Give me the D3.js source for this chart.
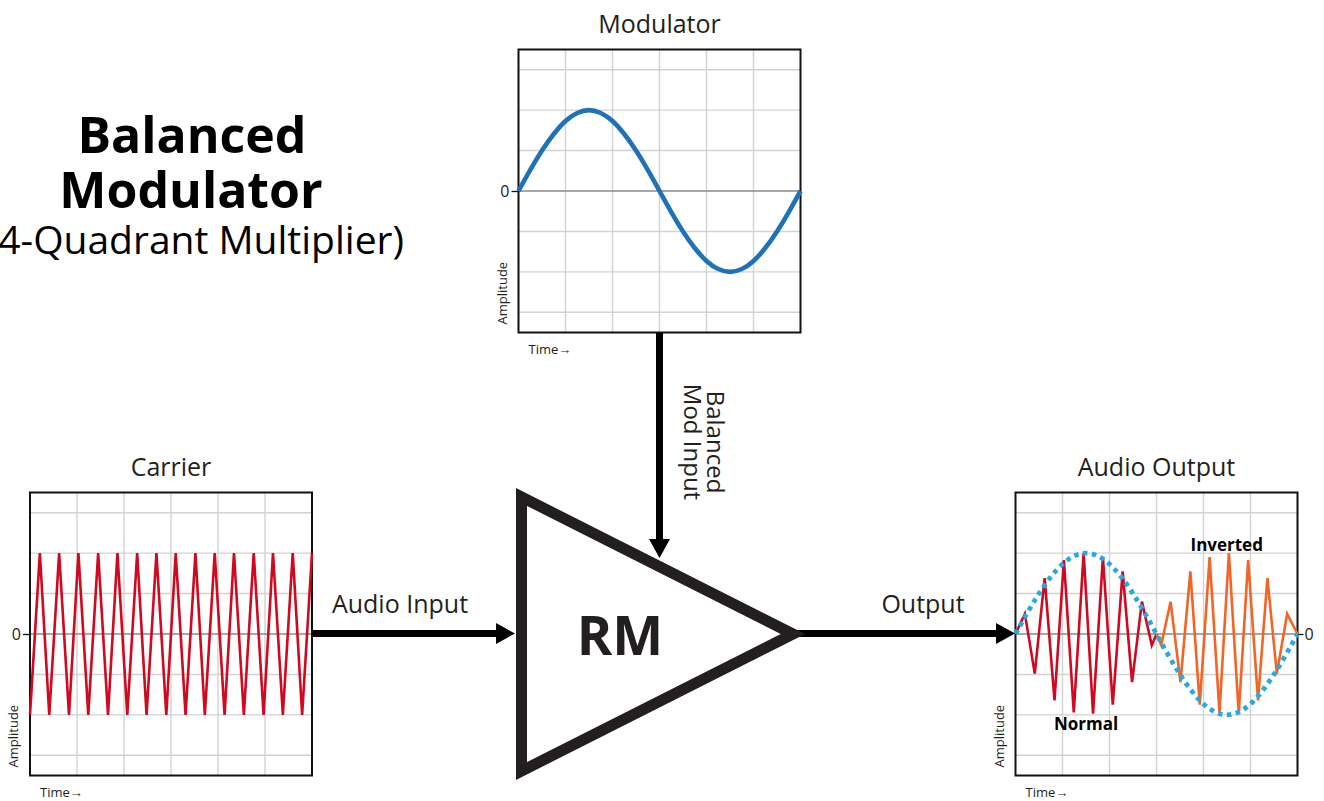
<!DOCTYPE html>
<html>
<head>
<meta charset="utf-8">
<script src="https://cdn.jsdelivr.net/npm/d3@7"></script>
<style>
  html, body { margin: 0; padding: 0; background: #fff; }
  svg { display: block; font-family: "Open Sans", "Noto Sans", sans-serif; }
</style>
</head>
<body>
<div id="chart"></div>
<script>
// modulator: one slow sine cycle (also the envelope in the output panel)
var modTime = [0, 0.25, 0.5, 0.75, 1, 1.25, 1.5, 1.75, 2, 2.25, 2.5, 2.75, 3,
               3.25, 3.5, 3.75, 4, 4.25, 4.5, 4.75, 5, 5.25, 5.5, 5.75, 6];
var modAmp = [0, 0.52, 1.0, 1.41, 1.73, 1.93, 2.0, 1.93, 1.73, 1.41, 1.0, 0.52, 0,
              -0.52, -1.0, -1.41, -1.73, -1.93, -2.0, -1.93, -1.73, -1.41, -1.0, -0.52, 0];

// carrier: triangle wave corners
var carrierTime = [0, 0.21, 0.41, 0.62, 0.83, 1.03, 1.24, 1.45, 1.66, 1.86,
                   2.07, 2.28, 2.48, 2.69, 2.90, 3.10, 3.31, 3.52, 3.72, 3.93,
                   4.14, 4.34, 4.55, 4.76, 4.97, 5.17, 5.38, 5.59, 5.79, 6.0];
var carrierAmp = [-2, 2, -2, 2, -2, 2, -2, 2, -2, 2,
                  -2, 2, -2, 2, -2, 2, -2, 2, -2, 2,
                  -2, 2, -2, 2, -2, 2, -2, 2, -2, 2];

// output, first half ("Normal") and second half ("Inverted")
var normalTime = [0, 0.2, 0.41, 0.62, 0.83, 1.03, 1.24, 1.45, 1.65, 1.86, 2.07, 2.28, 2.48, 2.69, 2.9, 3.0];
var normalAmp  = [0, 0.5, -0.98, 1.38, -1.64, 1.83, -1.94, 2.0, -1.97, 1.9, -1.75, 1.55, -1.19, 0.8, -0.28, 0];
var invertedTime = [3.0, 3.1, 3.3, 3.51, 3.72, 3.92, 4.13, 4.34, 4.54, 4.75, 4.95, 5.16, 5.36, 5.56, 5.78, 6.0];
var invertedAmp  = [0, -0.27, 0.8, -1.19, 1.55, -1.75, 1.9, -1.94, 2.0, -1.97, 1.83, -1.64, 1.38, -0.98, 0.5, 0];

// axes / grid
var timeDomain = [0, 6];
var ampDomain = [-3.5, 3.5];
var gridX = [1, 2, 3, 4, 5];
var gridY = [-3, -2, -1, 1, 2, 3];
var zeroTick = [0];

var titleLines = ["Balanced", "Modulator", "(4-Quadrant Multiplier)"];
var panelTitles = ["Modulator", "Carrier", "Audio Output"];

var W = 1324, H = 801;
var bw = 282, bh = 283;   // panel box size

var svg = d3.select("#chart").append("svg")
    .attr("width", W)
    .attr("height", H);

function zip(t, a) {
    return t.map(function (d, i) { return { t: d, a: a[i] }; });
}

function panel(left, top, title, zeroSide) {
    var g = svg.append("g").attr("transform", "translate(" + left + "," + top + ")");
    var x = d3.scaleLinear().domain(timeDomain).range([0, bw]);
    var y = d3.scaleLinear().domain(ampDomain).range([bh, 0]);

    g.selectAll(".gx").data(gridX).enter().append("line")
        .attr("x1", x).attr("x2", x).attr("y1", 0).attr("y2", bh)
        .attr("stroke", "#d2d2d2").attr("stroke-width", 1.4);
    g.selectAll(".gy").data(gridY).enter().append("line")
        .attr("y1", y).attr("y2", y).attr("x1", 0).attr("x2", bw)
        .attr("stroke", "#d2d2d2").attr("stroke-width", 1.4);
    g.append("line")
        .attr("x1", 0).attr("x2", bw).attr("y1", y(0)).attr("y2", y(0))
        .attr("stroke", "#8a8a8a").attr("stroke-width", 1.5);

    // zero tick + label
    var ax = zeroSide === "right"
        ? d3.axisRight(y).tickValues(zeroTick).tickSize(6).tickPadding(1)
        : d3.axisLeft(y).tickValues(zeroTick).tickSize(7).tickPadding(2);
    ax.tickFormat(d3.format("d"));
    var axg = g.append("g")
        .attr("transform", zeroSide === "right" ? "translate(" + bw + ",0)" : null)
        .call(ax);
    axg.select(".domain").remove();
    axg.selectAll("line").attr("stroke", "#111").attr("stroke-width", 1.3);
    axg.selectAll("text")
        .style("font-family", "'Open Sans', sans-serif")
        .style("font-size", "16px").attr("fill", "#222");

    g.append("rect")
        .attr("width", bw).attr("height", bh)
        .attr("fill", "none").attr("stroke", "#111").attr("stroke-width", 2);

    g.append("text")
        .attr("x", bw / 2).attr("y", -17)
        .attr("text-anchor", "middle")
        .attr("font-size", 25).attr("fill", "#231f20")
        .text(title);

    g.append("text")
        .attr("transform", "translate(-12," + (bh - 8) + ") rotate(-90)")
        .attr("font-size", 13).attr("fill", "#231f20")
        .text("Amplitude");

    g.append("text")
        .attr("x", 10).attr("y", bh + 21)
        .attr("font-size", 13).attr("fill", "#231f20")
        .text("Time→");

    return { g: g, x: x, y: y };
}

function trace(p, data, color, width, curve, dash) {
    var line = d3.line()
        .x(function (d) { return p.x(d.t); })
        .y(function (d) { return p.y(d.a); })
        .curve(curve || d3.curveLinear);
    var path = p.g.append("path")
        .datum(data)
        .attr("d", line)
        .attr("fill", "none")
        .attr("stroke", color)
        .attr("stroke-width", width)
        .attr("stroke-linejoin", "miter");
    if (dash) path.attr("stroke-dasharray", dash);
    return path;
}

function arrow(x1, y1, x2, y2) {
    var len = Math.sqrt((x2 - x1) * (x2 - x1) + (y2 - y1) * (y2 - y1));
    var ux = (x2 - x1) / len, uy = (y2 - y1) / len;
    var hl = 19, hw = 10.5;
    var bx = x2 - ux * hl, by = y2 - uy * hl;
    svg.append("line")
        .attr("x1", x1).attr("y1", y1).attr("x2", bx + ux).attr("y2", by + uy)
        .attr("stroke", "#000").attr("stroke-width", 7);
    svg.append("path")
        .attr("d", "M" + x2 + "," + y2 +
                   "L" + (bx - uy * hw) + "," + (by + ux * hw) +
                   "L" + (bx + uy * hw) + "," + (by - ux * hw) + "Z")
        .attr("fill", "#000");
}

// main title
svg.append("text").attr("x", 192).attr("y", 153)
    .attr("text-anchor", "middle").attr("font-size", 50).attr("font-weight", 700)
    .attr("fill", "#000").text(titleLines[0]);
svg.append("text").attr("x", 191).attr("y", 208)
    .attr("text-anchor", "middle").attr("font-size", 50).attr("font-weight", 700)
    .attr("fill", "#000").text(titleLines[1]);
svg.append("text").attr("x", 404).attr("y", 254)
    .attr("text-anchor", "end").attr("font-size", 39)
    .attr("fill", "#000").text(titleLines[2]);

// panels
var pMod = panel(518.5, 49.5, panelTitles[0], "left");
var pCar = panel(30, 492.5, panelTitles[1], "left");
var pOut = panel(1015.5, 492.5, panelTitles[2], "right");

trace(pMod, zip(modTime, modAmp), "#1f72b8", 4.6, d3.curveNatural);
trace(pCar, zip(carrierTime, carrierAmp), "#cf0a20", 2.6);
trace(pOut, zip(normalTime, normalAmp), "#cf0a20", 2.6);
trace(pOut, zip(invertedTime, invertedAmp), "#f26526", 2.6);
trace(pOut, zip(modTime, modAmp), "#29a9e1", 4.8, d3.curveNatural, "4.5,4.5");

pOut.g.append("text")
    .attr("x", 1054 - 1015.5).attr("y", 730 - 492.5)
    .attr("font-size", 17).attr("font-weight", 700).attr("fill", "#000")
    .text("Normal");
pOut.g.append("text")
    .attr("x", 1190.5 - 1015.5).attr("y", 551 - 492.5)
    .attr("font-size", 17).attr("font-weight", 700).attr("fill", "#000")
    .text("Inverted");

// arrows
arrow(312, 633.5, 515, 633.5);
arrow(790, 633.5, 1015, 633.5);
arrow(659.5, 333, 659.5, 558);

svg.append("text").attr("x", 400).attr("y", 613)
    .attr("text-anchor", "middle").attr("font-size", 25).attr("fill", "#231f20")
    .text("Audio Input");
svg.append("text").attr("x", 923).attr("y", 613)
    .attr("text-anchor", "middle").attr("font-size", 25).attr("fill", "#231f20")
    .text("Output");

var modLabel = svg.append("text")
    .attr("transform", "translate(707,442) rotate(90)")
    .attr("text-anchor", "middle").attr("font-size", 24).attr("fill", "#231f20");
modLabel.append("tspan").attr("x", 0).attr("y", 0).text("Balanced");
modLabel.append("tspan").attr("x", 0).attr("y", 23.5).text("Mod Input");

// RM block
svg.append("path")
    .attr("d", "M521.5,497L521.5,771L793,634Z")
    .attr("fill", "#fff")
    .attr("stroke", "#231f20")
    .attr("stroke-width", 11)
    .attr("stroke-linejoin", "miter")
    .attr("stroke-miterlimit", 10);
svg.append("text").attr("x", 620).attr("y", 655)
    .attr("text-anchor", "middle").attr("font-size", 54).attr("font-weight", 700)
    .attr("fill", "#231f20").text("RM");
</script>
</body>
</html>
